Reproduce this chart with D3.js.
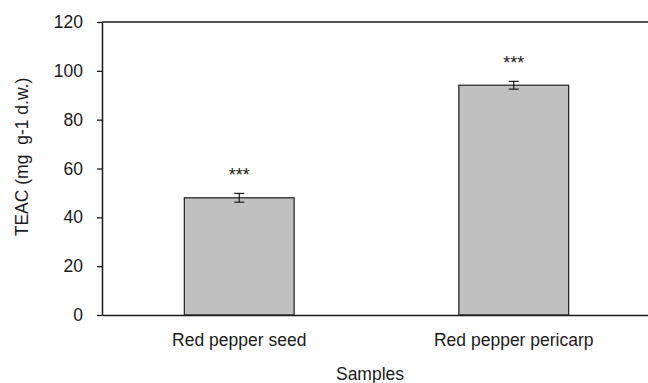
<!DOCTYPE html>
<html>
<head>
<script src="https://d3js.org/d3.v7.min.js"></script>
<style>
  body { margin: 0; background: #fff; }
  text { font-family: "Liberation Sans", Arial, sans-serif; fill: #1a1a1a; white-space: pre; }
</style>
</head>
<body>
<script>
// chart data
var samples = ["Red pepper seed", "Red pepper pericarp"];
var teac = [48.0, 94.1];
var teacErr = [1.8, 1.6];
var marks = ["***", "***"];
var yTicks = [0, 20, 40, 60, 80, 100, 120];

var width = 648, height = 383;
var margin = {top: 22, right: -3, bottom: 68, left: 102};
var w = width - margin.left - margin.right,
    h = height - margin.top - margin.bottom;

var svg = d3.select("body").append("svg")
    .attr("width", width)
    .attr("height", height);

var g = svg.append("g")
    .attr("transform", "translate(" + margin.left + "," + margin.top + ")");

var x = d3.scaleBand()
    .domain(samples)
    .range([0, w])
    .paddingInner(0.6)
    .paddingOuter(0.3);

var y = d3.scaleLinear()
    .domain([0, 120])
    .range([h, 0]);

// bars
g.selectAll("rect.bar")
    .data(samples)
    .enter()
    .append("rect")
    .attr("class", "bar")
    .attr("x", function(d) { return x(d) })
    .attr("y", function(d, i) { return y(teac[i]) })
    .attr("width", x.bandwidth())
    .attr("height", function(d, i) { return h - y(teac[i]) })
    .attr("fill", "#c0c0c0")
    .attr("stroke", "#2b2b2b")
    .attr("stroke-width", 1.3);

// error bars
var eb = g.selectAll("g.err")
    .data(samples)
    .enter()
    .append("g")
    .attr("class", "err")
    .attr("stroke", "#1a1a1a")
    .attr("stroke-width", 1.2);

eb.append("line")
    .attr("x1", function(d) { return x(d) + x.bandwidth() / 2 })
    .attr("x2", function(d) { return x(d) + x.bandwidth() / 2 })
    .attr("y1", function(d, i) { return y(teac[i] - teacErr[i]) })
    .attr("y2", function(d, i) { return y(teac[i] + teacErr[i]) });

eb.selectAll("line.cap")
    .data(function(d, i) { return [[d, teac[i] - teacErr[i]], [d, teac[i] + teacErr[i]]] })
    .enter()
    .append("line")
    .attr("class", "cap")
    .attr("x1", function(d) { return x(d[0]) + x.bandwidth() / 2 - 5 })
    .attr("x2", function(d) { return x(d[0]) + x.bandwidth() / 2 + 5 })
    .attr("y1", function(d) { return y(d[1]) })
    .attr("y2", function(d) { return y(d[1]) });

// significance stars
g.selectAll("text.sig")
    .data(samples)
    .enter()
    .append("text")
    .attr("class", "sig")
    .attr("x", function(d) { return x(d) + x.bandwidth() / 2 })
    .attr("y", function(d, i) { return y(teac[i] + teacErr[i]) - 12 })
    .attr("text-anchor", "middle")
    .attr("font-size", "18px")
    .text(function(d, i) { return marks[i] });

// top border
g.append("line")
    .attr("x1", 0).attr("x2", w)
    .attr("y1", 0).attr("y2", 0)
    .attr("stroke", "#1a1a1a")
    .attr("stroke-width", 1.5);

// y axis
var yAxis = g.append("g")
    .call(d3.axisLeft(y).tickValues(yTicks).tickSize(5).tickSizeOuter(0));
yAxis.select(".domain").attr("stroke", "#1a1a1a").attr("stroke-width", 1.5);
yAxis.selectAll(".tick line").attr("stroke", "#1a1a1a").attr("stroke-width", 1.3);
yAxis.selectAll(".tick text")
    .attr("font-size", "17.5px")
    .attr("font-family", "Liberation Sans, Arial, sans-serif")
    .attr("fill", "#1a1a1a")
    .attr("x", -19);

// x axis
var xAxis = g.append("g")
    .attr("transform", "translate(0," + h + ")")
    .call(d3.axisBottom(x).tickSize(0).tickSizeOuter(0));
xAxis.select(".domain").attr("stroke", "#1a1a1a").attr("stroke-width", 1.5);
xAxis.selectAll(".tick text")
    .attr("font-size", "17.5px")
    .attr("font-family", "Liberation Sans, Arial, sans-serif")
    .attr("fill", "#1a1a1a")
    .attr("y", 19);

// axis titles
svg.append("text")
    .attr("transform", "translate(28,157) rotate(-90)")
    .attr("text-anchor", "middle")
    .attr("font-size", "17.5px")
    .text("TEAC (mg  g-1 d.w.)");

svg.append("text")
    .attr("x", 370)
    .attr("y", 380)
    .attr("text-anchor", "middle")
    .attr("font-size", "17.5px")
    .text("Samples");
</script>
</body>
</html>
